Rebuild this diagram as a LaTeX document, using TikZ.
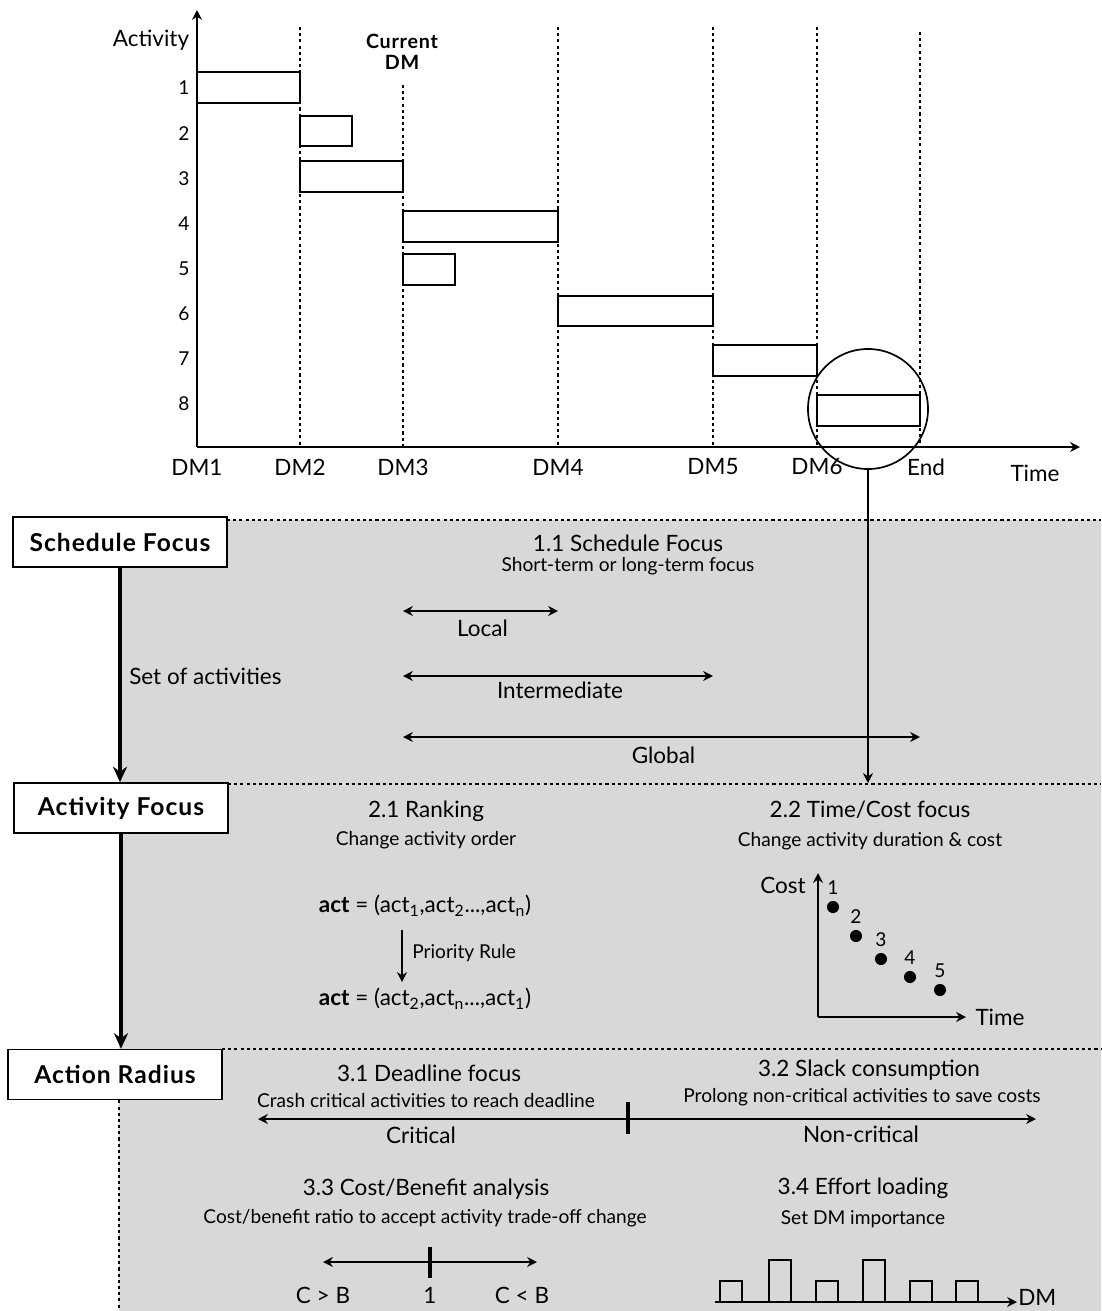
\documentclass[tikz,border=0pt]{standalone}
\usepackage{fontspec}
\setmainfont{Lato}
\usetikzlibrary{arrows.meta,positioning,calc}
\definecolor{panelgray}{RGB}{216,216,216}

\begin{document}
\begin{tikzpicture}[x=0.025cm, y=-0.025cm, >={Stealth[length=7pt,width=7pt]},
  font=\fontsize{16}{18}\selectfont,
  lbl/.style={inner sep=0pt},
  sub/.style={inner sep=0pt, font=\fontsize{13.6}{15}\selectfont},
  bar/.style={draw, line width=1.2pt},
  dmline/.style={line width=1pt, dash pattern=on 2.2pt off 2.2pt},
  axis/.style={line width=1.4pt, ->},
  span/.style={line width=1.2pt, <->},
  tick/.style={line width=2.4pt},
  dot/.style={circle, fill, inner sep=0pt, minimum size=8.6pt},
  sect/.style={draw, line width=1.2pt, fill=white, minimum width=5.35cm, minimum height=1.25cm,
    font=\fontsize{17.5}{19}\selectfont\bfseries\addfontfeature{LetterSpace=4}},
  flow/.style={line width=2.4pt, -{Stealth[length=11pt,width=10pt]}}]
\useasboundingbox (0,0) rectangle (1101,1311);

% gantt chart of the activities
\coordinate (o) at (197,447);
\coordinate (ytop) at (197,10);
\coordinate (xend) at (1080,447);
\draw[axis] (o) -- (ytop);
\draw[axis] (o) -- (xend);
\node[lbl] (ylab) at (151,40) {Activity};
\node[lbl] (xlab) at (1035,473) {Time};
\foreach \x/\s in {300/27, 403/85, 558/27, 713/27, 817/27, 920/32}
  \draw[dmline] (\x,\s) -- (\x,447);
\foreach \x/\t in {197/DM1, 300/DM2, 403/DM3, 558/DM4, 713/DM5, 817/DM6, 926/End}
  \node[lbl] (t-\t) at (\x,467) {\t};
\foreach \y [count=\i] in {88,134,179,224,269,314,359,404}
  \node[sub] (r\i) at (184,\y) {\i};
\foreach \a/\b/\c/\d in {197/72/300/103, 300/116/352/146, 300/161/403/192, 403/211/558/242,
    403/254/455/285, 558/296/713/326, 713/345/817/376, 817/395/920/426}
  \draw[bar] (\a,\b) rectangle (\c,\d);
\node[lbl, align=center, font=\fontsize{14}{15}\selectfont\bfseries\addfontfeature{LetterSpace=4}] (cur) at (402,52) {Current\\DM};
\node[draw, circle, line width=1.2pt, minimum size=3cm, inner sep=0pt] (zoom) at (868,409) {};

% panels
\fill[panelgray] (119,520) rectangle (1101,1311);
\draw[dmline] (227,520) -- (1101,520);
\draw[dmline] (228,784) -- (1101,784);
\draw[dmline] (222,1049) -- (1101,1049);
\coordinate (zend) at (868,783);
\draw[line width=1.2pt, ->] (zoom.south) -- (zend);

\node[sect] (sched) at (120,542) {Schedule Focus};
\node[sect] (actf) at (121,808) {Activity Focus};
\node[sect] (actr) at (115,1074.5) {Action Radius};
\draw[flow] (sched.south) -- (sched.south |- actf.north);
\draw[flow] (actf.south) -- (actf.south |- actr.north);
\coordinate (rb) at (119,1311);
\draw[dmline] (rb |- actr.south) -- (rb);

% 1.1 schedule focus
\node[lbl] (h11) at (628,543) {1.1 Schedule Focus};
\node[sub] (s11) at (628,566) {Short-term or long-term focus};
\node[lbl, anchor=west] (soa) at (129,676) {Set of activities};
\foreach \r/\y/\t/\n/\d in {558/611/Local/loc/17, 713/676/Intermediate/int/14, 920/737/Global/glo/18} {
  \coordinate (\n-l) at (403,\y);
  \coordinate (\n-r) at (\r,\y);
  \draw[span] (\n-l) -- (\n-r);
  \node[lbl] (\n-t) at ($(\n-l)!0.5!(\n-r)+(2,\d)$) {\t};
}

% 2.1 ranking
\node[lbl] (h21) at (426,811) {2.1 Ranking};
\node[sub] (s21) at (426,840) {Change activity order};
\node[lbl] (ord1) at (425,906) {\textbf{act} = (act\textsubscript{1},act\textsubscript{2}...,act\textsubscript{n})};
\node[lbl] (ord2) at (425,999) {\textbf{act} = (act\textsubscript{2},act\textsubscript{n}...,act\textsubscript{1})};
\coordinate (pr-a) at (402,930);
\coordinate (pr-b) at (402,982);
\draw[line width=1.2pt, ->] (pr-a) -- (pr-b);
\node[sub, anchor=west] (prl) at (412,953) {Priority Rule};

% 2.2 time/cost
\node[lbl] (h22) at (870,810) {2.2 Time/Cost focus};
\node[sub] (s22) at (870,841) {Change activity duration \& cost};
\coordinate (co) at (818,1017);
\coordinate (cy) at (818,873);
\coordinate (cx) at (966,1017);
\draw[line width=1.2pt, ->] (co) -- (cy);
\draw[line width=1.2pt, ->] (co) -- (cx);
\node[lbl] (cl) at (783,885) {Cost};
\node[lbl] (tl) at (1000,1017) {Time};
\foreach \x/\y [count=\i] in {833/907, 856/936, 881/959, 910/977, 940/990} {
  \node[dot] (d\i) at (\x,\y) {};
  \node[sub] (p\i) at (\x,\y-19) {\i};
}

% 3.1 / 3.2 deadline and slack
\node[lbl] (h31) at (429,1073) {3.1 Deadline focus};
\node[sub] (s31) at (426,1101) {Crash critical activities to reach deadline};
\node[lbl] (h32) at (869,1070) {3.2 Slack consumption};
\node[sub] (s32) at (862,1097) {Prolong non-critical activities to save costs};
\coordinate (dl-l) at (258,1119);
\coordinate (dl-m) at (628,1119);
\coordinate (dl-r) at (1036,1119);
\draw[line width=1.2pt, ->] (dl-m) -- (dl-l);
\draw[line width=1.2pt, ->] (dl-m) -- (dl-r);
\draw[tick] (628,1102) -- (628,1134);
\node[lbl] (crit) at (421,1135) {Critical};
\node[lbl] (ncrit) at (861,1134) {Non-critical};

% 3.3 cost/benefit
\node[lbl] (h33) at (426,1189) {3.3 Cost/Benefit analysis};
\node[sub] (s33) at (425,1218) {Cost/benefit ratio to accept activity trade-off change};
\coordinate (cb-l) at (323,1262);
\coordinate (cb-r) at (537,1262);
\draw[span] (cb-l) -- (cb-r);
\draw[tick] (430,1247) -- (430,1278);
\node[lbl] (cgb) at (323,1295) {C > B};
\node[lbl] (one) at (430,1295) {1};
\node[lbl] (clb) at (522,1295) {C < B};

% 3.4 effort loading
\node[lbl] (h34) at (863,1188) {3.4 Effort loading};
\node[sub] (s34) at (863,1219) {Set DM importance};
\coordinate (el-l) at (715,1302);
\coordinate (el-r) at (1017,1302);
\foreach \a/\h in {720/21, 769/42, 816/21, 863/42, 910/21, 956/21}
  \draw[line width=1.2pt] (\a,1302) rectangle (\a+22,1302-\h);
\draw[line width=1.2pt, ->] (el-l) -- (el-r);
\node[lbl, anchor=west] (dml) at (1018,1297) {DM};
\end{tikzpicture}
\end{document}
